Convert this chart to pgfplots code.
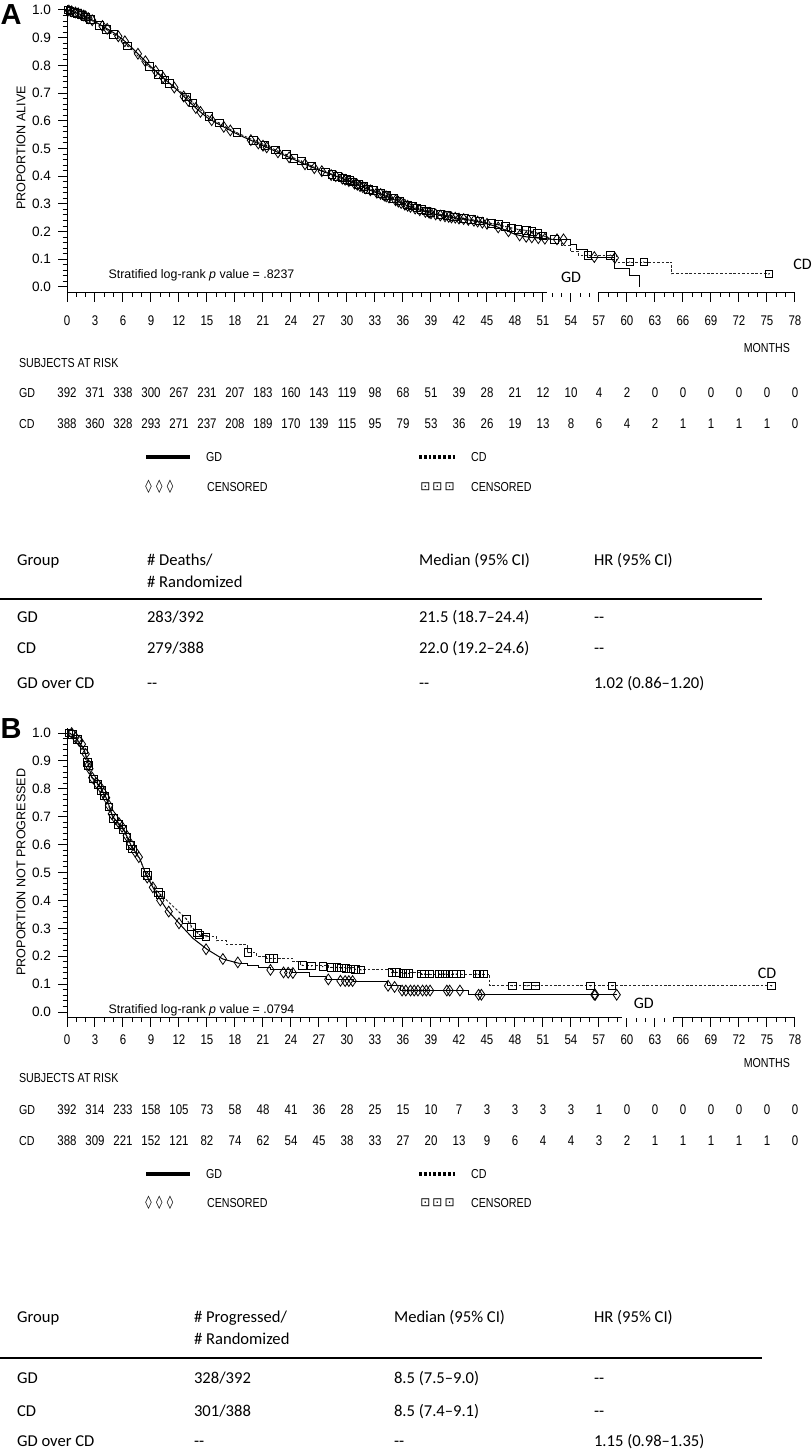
\documentclass[border=0pt]{standalone}
\usepackage{pgfplots}
\pgfplotsset{compat=1.18}
\usepackage{fontspec}
\setmainfont{Liberation Sans}
\newfontfamily\narrowfont{Liberation Sans}[FakeStretch=0.82]
\newfontfamily\calfont{Carlito}
\newfontfamily\djv{DejaVu Sans}

\pgfdeclareplotmark{sqdot}{%
  \pgfsetcornersarced{\pgfpoint{0.7pt}{0.7pt}}%
  \pgfpathrectangle{\pgfqpoint{-\pgfplotmarksize}{-\pgfplotmarksize}}{\pgfqpoint{2\pgfplotmarksize}{2\pgfplotmarksize}}%
  \pgfusepathqstroke
  \pgfsetcornersarced{\pgfpointorigin}%
  \pgfpathcircle{\pgfpointorigin}{0.35pt}\pgfusepathqfill}

\pgfplotsset{
  kmaxis/.style={
    scale only axis, width=364pt,
    xmin=0, xmax=78, ymin=-0.02, ymax=1.018,
    axis y line=left, axis x line=bottom,
    axis line style={-, line width=0.5pt},
    x axis line style={draw=none},
    xtick={0,3,...,78}, minor x tick num=2,
    ytick={0,0.1,0.2,0.3,0.4,0.5,0.6,0.7,0.8,0.9,1.0}, minor y tick num=4,
    tick align=outside,
    major tick length=4.5pt, minor tick length=2.2pt,
    tick style={black, line width=0.5pt},
    /pgf/number format/assume math mode=true,
    xticklabel style={font=\narrowfont\fontsize{7}{8}\selectfont, anchor=center},
    yticklabel style={font=\fontsize{6.8}{8}\selectfont, /pgf/number format/fixed, /pgf/number format/fixed zerofill, /pgf/number format/precision=1},
    clip=false,
  },
  gdline/.style={black, line width=0.5pt},
  cdline/.style={black!85, line width=0.45pt, dash pattern=on 1.3pt off 0.9pt},
  gdcens/.style={only marks, mark=diamond, mark size=2.7pt, mark options={black, line width=0.4pt, solid, xscale=0.9}},
  cdcens/.style={only marks, mark=sqdot, mark size=1.9pt, mark options={black, line width=0.4pt, solid}},
}

\begin{document}
\begin{tikzpicture}
\useasboundingbox (0,0) rectangle (406pt,-726pt);

%%%%%%%%%%%%%%%% PANEL A %%%%%%%%%%%%%%%%
\begin{axis}[kmaxis, height=143.76pt, at={(33.5pt,-146.25pt)}, anchor=south west,
  xticklabel style={yshift=-9.75pt}]
\addplot[gdline] coordinates {
(0,1.000)(1,0.990)(2,0.978)(3,0.958)(4,0.938)(5,0.918)(6,0.893)(7,0.862)(8,0.828)(9,0.795)
(10,0.765)(11,0.735)(12,0.705)(13,0.672)(14,0.640)(15,0.612)(16,0.592)(17,0.574)(18,0.556)(19,0.540)
(20,0.525)(21,0.510)(22,0.495)(23,0.480)(24,0.465)(25,0.450)(26,0.436)(27,0.422)(28,0.410)(29,0.397)
(30,0.385)(31,0.370)(32,0.356)(33,0.342)(34,0.330)(35,0.316)(36,0.300)(37,0.286)(38,0.275)(39,0.266)
(40,0.258)(41,0.252)(42,0.247)(43,0.242)(44,0.236)(45,0.228)(46,0.218)(47,0.205)(48,0.190)(49,0.182)
(50,0.178)(51,0.175)(52,0.172)};
\addplot[gdline, const plot] coordinates {
(52,0.172)(54.0,0.155)(54.6,0.135)(55.8,0.108)(58.7,0.067)(60.3,0.040)(61.3,0.0)};
\addplot[cdline] coordinates {
(0,1.000)(1,0.988)(2,0.975)(3,0.955)(4,0.935)(5,0.912)(6,0.886)(7,0.855)(8,0.820)(9,0.790)
(10,0.762)(11,0.735)(12,0.710)(13,0.680)(14,0.648)(15,0.620)(16,0.598)(17,0.578)(18,0.560)(19,0.545)
(20,0.530)(21,0.515)(22,0.500)(23,0.485)(24,0.470)(25,0.455)(26,0.440)(27,0.425)(28,0.412)(29,0.400)
(30,0.388)(31,0.374)(32,0.360)(33,0.346)(34,0.333)(35,0.320)(36,0.305)(37,0.292)(38,0.280)(39,0.270)
(40,0.262)(41,0.256)(42,0.250)(43,0.245)(44,0.240)(45,0.232)(46,0.226)(47,0.218)(48,0.210)(49,0.205)
(50,0.200)(51,0.185)(52,0.172)};
\addplot[cdline, const plot] coordinates {
(52,0.172)(53.0,0.150)(53.9,0.130)(54.8,0.115)(58.9,0.090)(64.8,0.047)(75.3,0.047)};
\addplot[gdcens] coordinates {
(0.2,0.998)(0.5,0.995)(0.9,0.991)(1.2,0.988)(1.5,0.984)(1.8,0.980)(2.0,0.977)(2.3,0.970)(2.7,0.963)
(3.8,0.942)(4.3,0.932)(5.5,0.905)(6.2,0.887)(7.6,0.842)(8.4,0.815)(9.5,0.780)(10.3,0.756)(11.5,0.720)
(12.5,0.688)(13.0,0.672)(13.8,0.646)(14.3,0.632)(15.5,0.602)(16.8,0.578)(17.5,0.565)(19.7,0.530)
(20.5,0.518)(21.0,0.510)(21.4,0.504)(22.6,0.486)(23.8,0.468)(25.5,0.443)(26.5,0.429)(27.3,0.418)
(28.3,0.404)(28.8,0.400)(29.5,0.391)(29.8,0.387)(30.2,0.382)(30.8,0.373)(31.1,0.369)(31.4,0.364)
(31.7,0.360)(32.0,0.356)(32.5,0.349)(33.2,0.340)(33.6,0.336)(34.0,0.330)(34.2,0.327)(34.5,0.323)
(35.2,0.313)(35.5,0.308)(35.8,0.303)(36.2,0.297)(36.5,0.293)(36.8,0.289)(37.3,0.283)(37.8,0.277)
(38.4,0.271)(38.8,0.268)(39.0,0.266)(39.5,0.262)(40.0,0.258)(40.5,0.255)(40.9,0.253)(41.2,0.251)
(41.6,0.250)(42.0,0.247)(42.5,0.245)(43.0,0.242)(43.6,0.239)(44.0,0.236)(44.5,0.232)(45.0,0.228)
(46.2,0.215)(47.3,0.201)(48.5,0.186)(49.2,0.181)(49.8,0.179)(50.5,0.176)(51.2,0.174)(52.5,0.172)
(53.2,0.172)(56.5,0.108)(58.7,0.105)};
\addplot[cdcens] coordinates {
(0.1,1.0)(0.3,0.997)(0.8,0.992)(1.1,0.987)(1.5,0.982)(2.0,0.975)(2.5,0.965)(3.5,0.945)(4.2,0.930)
(5.0,0.912)(6.5,0.870)(8.8,0.796)(9.8,0.768)(10.5,0.748)(11.0,0.735)(12.8,0.686)(13.5,0.664)
(15.2,0.616)(16.3,0.592)(18.2,0.557)(20.0,0.530)(21.2,0.512)(22.3,0.495)(23.5,0.478)(24.3,0.465)
(25.1,0.455)(26.2,0.437)(27.7,0.416)(28.4,0.407)(29.0,0.400)(29.5,0.394)(30.0,0.388)(30.3,0.384)
(30.6,0.380)(31.2,0.371)(31.8,0.363)(32.3,0.353)(32.8,0.349)(33.6,0.338)(34.2,0.330)(35.0,0.320)
(35.6,0.311)(36.5,0.297)(37.0,0.292)(37.5,0.286)(38.0,0.280)(38.5,0.275)(39.0,0.270)(40.0,0.262)
(40.7,0.259)(41.5,0.253)(42.5,0.248)(43.3,0.244)(44.2,0.238)(45.5,0.229)(46.2,0.225)(47.0,0.218)
(47.6,0.213)(48.3,0.208)(49.2,0.204)(49.8,0.201)(50.4,0.193)(51.0,0.185)(52.2,0.172)(55.8,0.115)
(58.2,0.115)(60.3,0.090)(61.8,0.090)(75.2,0.047)};
\draw[line width=0.5pt] (axis cs:0,-0.02) -- (axis cs:51.4,-0.02);
\draw[line width=0.5pt] (axis cs:56.9,-0.02) -- (axis cs:78,-0.02);
\node[anchor=west, font=\fontsize{6.2}{7.5}\selectfont] at (axis cs:3.7,0.043) {Stratified log-rank \textit{p} value = .8237};
\node[font=\calfont\fontsize{8}{9}\selectfont] at (axis cs:54.0,0.036) {GD};
\node[font=\calfont\fontsize{8}{9}\selectfont] at (axis cs:78.8,0.080) {CD};
\end{axis}

%%%%%%%%%%%%%%%% PANEL B %%%%%%%%%%%%%%%%
\begin{axis}[kmaxis, height=144.8pt, at={(33.5pt,-508.8pt)}, anchor=south west,
  xticklabel style={yshift=-6.7pt}]
\addplot[gdline] coordinates {
(0,1.0)(0.3,1.0)(1.0,0.98)(1.8,0.945)(2.2,0.90)(2.6,0.845)(3.5,0.81)(4.25,0.765)(4.9,0.70)(6.0,0.66)
(6.9,0.595)(7.8,0.55)(8.5,0.49)(9.6,0.423)(10.7,0.367)(12.5,0.30)(13.5,0.264)(15.0,0.225)(16.7,0.19)(18.5,0.174)};
\addplot[gdline, const plot] coordinates {
(18.5,0.174)(19.3,0.168)(20.5,0.160)(21.8,0.151)(24.2,0.140)(26.0,0.128)(27.8,0.117)(30.7,0.111)
(34.3,0.094)(35.7,0.077)(43.0,0.062)(58.9,0.062)};
\addplot[cdline] coordinates {
(0,1.0)(0.3,1.0)(1.0,0.978)(1.8,0.94)(2.2,0.895)(2.6,0.842)(3.5,0.808)(4.25,0.76)(4.9,0.698)(6.0,0.655)
(6.9,0.592)(7.8,0.548)(8.5,0.492)(9.6,0.435)(10.7,0.40)(11.75,0.367)(12.8,0.333)(13.5,0.30)(14.25,0.276)};
\addplot[cdline, const plot] coordinates {
(14.25,0.276)(15.0,0.270)(16.0,0.255)(17.1,0.242)(19.3,0.213)(20.3,0.200)(21.4,0.193)(24.2,0.180)
(25.0,0.168)(28.0,0.160)(31.4,0.151)(35.0,0.142)(38.0,0.136)(45.3,0.094)(75.5,0.094)};
\addplot[gdcens] coordinates {
(0.5,1.0)(0.9,0.985)(1.3,0.972)(1.6,0.96)(2.0,0.925)(2.3,0.885)(2.4,0.872)(2.7,0.840)(3.2,0.82)
(3.6,0.805)(3.9,0.785)(4.2,0.768)(4.5,0.74)(4.8,0.71)(5.2,0.692)(5.6,0.676)(5.9,0.664)(6.4,0.632)
(6.8,0.603)(7.3,0.575)(7.7,0.555)(8.6,0.482)(9.2,0.447)(10.0,0.40)(10.9,0.36)(12.0,0.318)
(14.9,0.225)(16.7,0.19)(18.3,0.178)(21.8,0.151)(23.2,0.142)(23.7,0.141)(24.2,0.140)(28.0,0.117)
(29.3,0.112)(29.8,0.111)(30.2,0.111)(30.6,0.111)(34.4,0.094)(35.1,0.090)(35.9,0.077)(36.3,0.077)
(36.8,0.077)(37.2,0.077)(37.6,0.077)(38.1,0.077)(38.5,0.077)(38.9,0.077)(40.7,0.077)(41.0,0.077)
(42.1,0.077)(44.1,0.062)(44.4,0.062)(56.5,0.062)(56.6,0.062)(58.9,0.062)};
\addplot[cdcens] coordinates {
(0.2,1.0)(0.6,0.995)(1.1,0.978)(1.8,0.94)(2.2,0.895)(2.3,0.885)(2.8,0.835)(3.3,0.815)(3.7,0.795)
(4.0,0.775)(4.5,0.735)(5.0,0.695)(5.5,0.672)(6.0,0.655)(6.4,0.625)(6.8,0.598)(7.0,0.585)(8.4,0.50)
(8.6,0.49)(9.8,0.428)(10.0,0.42)(12.8,0.333)(13.3,0.305)(14.0,0.283)(14.2,0.277)(14.9,0.27)
(19.4,0.213)(21.7,0.193)(22.1,0.193)(25.2,0.168)(26.2,0.165)(27.4,0.163)(28.3,0.160)(28.9,0.160)
(29.4,0.158)(29.9,0.157)(30.4,0.155)(30.9,0.153)(31.5,0.151)(34.8,0.142)(35.3,0.142)(36.0,0.138)
(36.3,0.138)(36.6,0.138)(38.0,0.136)(38.3,0.136)(38.8,0.136)(39.9,0.136)(40.2,0.136)(40.5,0.136)
(41.4,0.136)(41.7,0.136)(42.2,0.136)(43.9,0.136)(44.2,0.136)(44.6,0.136)(47.7,0.094)(49.3,0.094)
(50.2,0.094)(56.1,0.094)(58.4,0.094)(75.5,0.094)};
\draw[line width=0.5pt] (axis cs:0,-0.02) -- (axis cs:59.5,-0.02);
\draw[line width=0.5pt] (axis cs:64.9,-0.02) -- (axis cs:78,-0.02);
\node[anchor=west, font=\fontsize{6.2}{7.5}\selectfont] at (axis cs:3.7,0.006) {Stratified log-rank \textit{p} value = .0794};
\node[font=\calfont\fontsize{8}{9}\selectfont] at (axis cs:61.8,0.030) {GD};
\node[font=\calfont\fontsize{8}{9}\selectfont] at (axis cs:75.0,0.137) {CD};
\end{axis}

%%%%%%%%%%%%%%%% TEXT (pixel coordinates) %%%%%%%%%%%%%%%%
\begin{scope}[x=0.5pt, y=-0.5pt]
\node[font=\bfseries\fontsize{14.5}{16}\selectfont] at (11,15) {A};
\node[font=\bfseries\fontsize{14.5}{16}\selectfont] at (11,729) {B};
\node[rotate=90, font=\fontsize{6.3}{7.5}\selectfont] at (21,148) {PROPORTION ALIVE};
\node[rotate=90, font=\fontsize{6.3}{7.5}\selectfont] at (21,872) {PROPORTION NOT PROGRESSED};

% ---------- Panel A at-risk ----------
\begin{scope}[every node/.style={font=\narrowfont\fontsize{6.5}{8}\selectfont}]
\node[anchor=east] at (797,348) {MONTHS};
\node[anchor=west] at (12,363) {SUBJECTS AT RISK};
\node[anchor=west] at (12,393) {GD};
\node[anchor=west] at (12,424) {CD};
\node[anchor=west] at (199,457) {GD};
\node[anchor=west] at (464,457) {CD};
\node[anchor=west] at (200,487) {CENSORED};
\node[anchor=west] at (464,487) {CENSORED};
\end{scope}
\foreach \v [count=\i from 0] in {392,371,338,300,267,231,207,183,160,143,119,98,68,51,39,28,21,12,10,4,2,0,0,0,0,0,0}
  \node[font=\narrowfont\fontsize{7}{8}\selectfont] at ({67+28*\i},393) {\v};
\foreach \v [count=\i from 0] in {388,360,328,293,271,237,208,189,170,139,115,95,79,53,36,26,19,13,8,6,4,2,1,1,1,1,0}
  \node[font=\narrowfont\fontsize{7}{8}\selectfont] at ({67+28*\i},424) {\v};
\draw[line width=2.2pt] (146,457) -- (190,457);
\draw[line width=2.2pt, dash pattern=on 1.4pt off 1pt] (419,457) -- (456,457);
\node[anchor=west, font=\djv\fontsize{6.5}{8}\selectfont, inner sep=0pt] at (145,487) {◊\,\,◊\,\,◊};
\node[anchor=west, font=\djv\fontsize{6}{8}\selectfont, inner sep=0pt] at (420,487) {⊡\,⊡\,⊡};

% ---------- Panel A table ----------
\begin{scope}[every node/.style={anchor=west, text height=6pt, text depth=1.8pt, font=\calfont\fontsize{8.3}{10}\selectfont}]
\node at (10,561) {Group};
\node at (140,561) {\# Deaths/};
\node at (140,583) {\# Randomized};
\node at (412,561) {Median (95\% CI)};
\node at (587,561) {HR (95\% CI)};
\node at (10,618) {GD};
\node at (140,618) {283/392};
\node at (412,618) {21.5 (18.7–24.4)};
\node at (587,618) {{-}{-}};
\node at (10,649) {CD};
\node at (140,649) {279/388};
\node at (412,649) {22.0 (19.2–24.6)};
\node at (587,649) {{-}{-}};
\node at (10,684) {GD over CD};
\node at (140,684) {{-}{-}};
\node at (412,684) {{-}{-}};
\node at (587,684) {1.02 (0.86–1.20)};
\end{scope}
\draw[line width=1pt] (0,599) -- (762,599);

% ---------- Panel B at-risk ----------
\begin{scope}[every node/.style={font=\narrowfont\fontsize{6.5}{8}\selectfont}]
\node[anchor=east] at (797,1063) {MONTHS};
\node[anchor=west] at (12,1078) {SUBJECTS AT RISK};
\node[anchor=west] at (12,1110) {GD};
\node[anchor=west] at (12,1141) {CD};
\node[anchor=west] at (199,1174) {GD};
\node[anchor=west] at (464,1174) {CD};
\node[anchor=west] at (200,1203) {CENSORED};
\node[anchor=west] at (464,1203) {CENSORED};
\end{scope}
\foreach \v [count=\i from 0] in {392,314,233,158,105,73,58,48,41,36,28,25,15,10,7,3,3,3,3,1,0,0,0,0,0,0,0}
  \node[font=\narrowfont\fontsize{7}{8}\selectfont] at ({67+28*\i},1110) {\v};
\foreach \v [count=\i from 0] in {388,309,221,152,121,82,74,62,54,45,38,33,27,20,13,9,6,4,4,3,2,1,1,1,1,1,0}
  \node[font=\narrowfont\fontsize{7}{8}\selectfont] at ({67+28*\i},1141) {\v};
\draw[line width=2.2pt] (146,1174) -- (190,1174);
\draw[line width=2.2pt, dash pattern=on 1.4pt off 1pt] (419,1174) -- (456,1174);
\node[anchor=west, font=\djv\fontsize{6.5}{8}\selectfont, inner sep=0pt] at (145,1203) {◊\,\,◊\,\,◊};
\node[anchor=west, font=\djv\fontsize{6}{8}\selectfont, inner sep=0pt] at (420,1203) {⊡\,⊡\,⊡};

% ---------- Panel B table ----------
\begin{scope}[every node/.style={anchor=west, text height=6pt, text depth=1.8pt, font=\calfont\fontsize{8.3}{10}\selectfont}]
\node at (10,1318) {Group};
\node at (187,1318) {\# Progressed/};
\node at (187,1340) {\# Randomized};
\node at (387,1318) {Median (95\% CI)};
\node at (587,1318) {HR (95\% CI)};
\node at (10,1379) {GD};
\node at (187,1379) {328/392};
\node at (387,1379) {8.5 (7.5–9.0)};
\node at (587,1379) {{-}{-}};
\node at (10,1412) {CD};
\node at (187,1412) {301/388};
\node at (387,1412) {8.5 (7.4–9.1)};
\node at (587,1412) {{-}{-}};
\node at (10,1442) {GD over CD};
\node at (187,1442) {{-}{-}};
\node at (387,1442) {{-}{-}};
\node at (587,1442) {1.15 (0.98–1.35)};
\end{scope}
\draw[line width=1pt] (0,1358) -- (762,1358);
\end{scope}
\end{tikzpicture}
\end{document}
